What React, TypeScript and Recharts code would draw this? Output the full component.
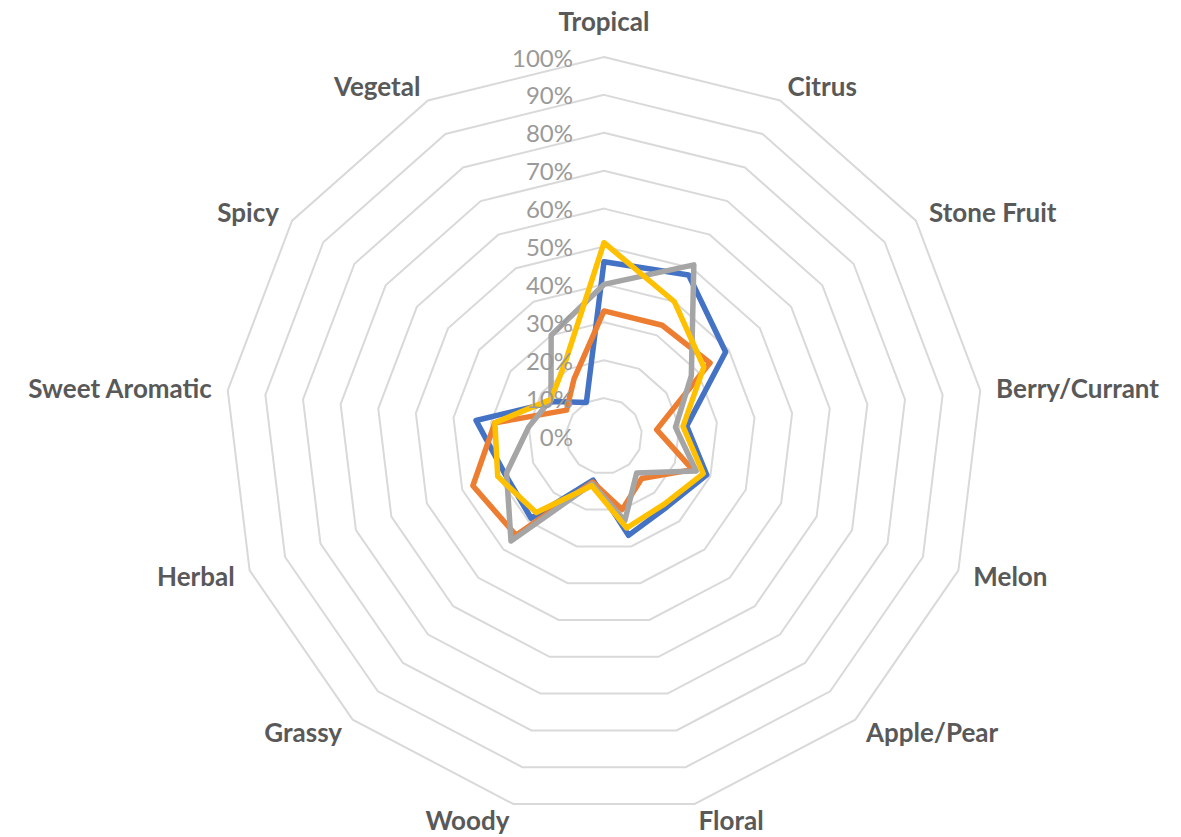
import { RadarChart, Radar, PolarGrid, PolarAngleAxis, PolarRadiusAxis } from 'recharts';

// aroma profile, % of tasters per descriptor
const categories = [
  'Tropical',
  'Citrus',
  'Stone Fruit',
  'Berry/Currant',
  'Melon',
  'Apple/Pear',
  'Floral',
  'Woody',
  'Grassy',
  'Herbal',
  'Sweet Aromatic',
  'Spicy',
  'Vegetal',
];
const blueSeries = [46, 48, 39, 22, 29, 25, 27, 12, 29, 28, 34, 16, 10];
const orangeSeries = [33, 33, 34, 14, 25, 15, 20, 12.5, 35, 37, 29, 12, 17];
const graySeries = [40, 51, 28, 19, 26, 13, 23, 13, 37, 27.5, 20, 17, 30];
const yellowSeries = [51, 40, 32, 21, 28, 24, 25, 13.5, 27, 30, 29, 17, 22];
const percentTicks = [0, 10, 20, 30, 40, 50, 60, 70, 80, 90, 100];

const data = categories.map((name, i) => ({
  name,
  s1: blueSeries[i],
  s2: orangeSeries[i],
  s3: graySeries[i],
  s4: yellowSeries[i],
}));

const FONT = 'Lato, "Open Sans", sans-serif';

function CategoryTick(props: any) {
  const { x, y, payload } = props;
  const rad = (payload.coordinate * Math.PI) / 180;
  const dx = Math.cos(rad);
  const anchor = dx > 0.05 ? 'start' : dx < -0.05 ? 'end' : 'middle';
  // top label sits higher above its vertex
  const lift = Math.abs(dx) < 0.05 ? -20 : 0;
  return (
    <text
      x={x}
      y={y + lift}
      textAnchor={anchor}
      dominantBaseline="central"
      fontFamily={FONT}
      fontWeight={700}
      fontSize={26}
      fill="#595959"
    >
      {payload.value}
    </text>
  );
}

function PercentTick(props: any) {
  const { x, y, payload } = props;
  return (
    <text
      x={x - 31}
      y={y}
      textAnchor="end"
      dominantBaseline="central"
      fontFamily={FONT}
      fontSize={24}
      fill="#9a9a9a"
    >
      {`${payload.value}%`}
    </text>
  );
}

export default function App() {
  return (
    <div style={{ position: 'absolute', left: 0, top: 0, width: 1181, height: 837, background: '#fff' }}>
      <RadarChart width={1181} height={837} data={data} cx={604} cy={436} outerRadius={379}>
        <PolarGrid gridType="polygon" radialLines={false} stroke="#d9d9d9" strokeWidth={2} />
        <PolarAngleAxis
          dataKey="name"
          axisLine={false}
          tickLine={false}
          tickSize={16}
          tick={CategoryTick}
        />
        <PolarRadiusAxis
          angle={90}
          domain={[0, 100]}
          ticks={percentTicks}
          axisLine={false}
          tickLine={false}
          tick={PercentTick}
        />
        <Radar dataKey="s1" stroke="#4472C4" strokeWidth={5.5} fill="none" fillOpacity={0} strokeLinejoin="round" dot={false} isAnimationActive={false} />
        <Radar dataKey="s2" stroke="#ED7D31" strokeWidth={5.5} fill="none" fillOpacity={0} strokeLinejoin="round" dot={false} isAnimationActive={false} />
        <Radar dataKey="s3" stroke="#A5A5A5" strokeWidth={5.5} fill="none" fillOpacity={0} strokeLinejoin="round" dot={false} isAnimationActive={false} />
        <Radar dataKey="s4" stroke="#FFC000" strokeWidth={5.5} fill="none" fillOpacity={0} strokeLinejoin="round" dot={false} isAnimationActive={false} />
      </RadarChart>
    </div>
  );
}
